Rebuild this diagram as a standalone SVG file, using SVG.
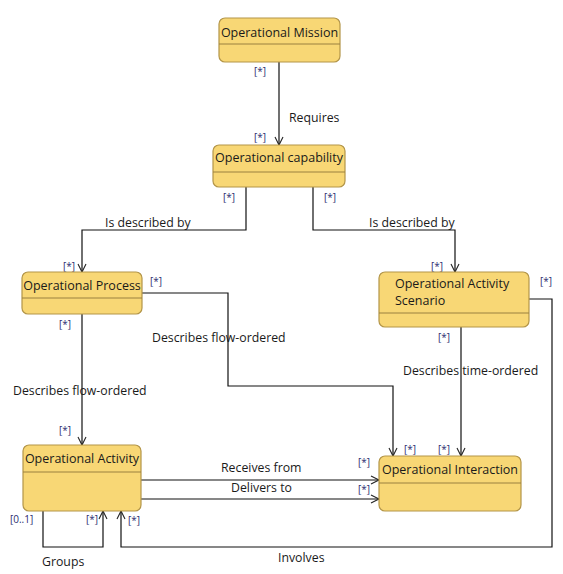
<svg xmlns="http://www.w3.org/2000/svg" width="563" height="574" viewBox="0 0 563 574">
<style>
.box{fill:#F8D775;stroke:#B39548;stroke-width:1.2}
.div{stroke:#9A8040;stroke-width:1}
.t{font-family:"Open Sans","DejaVu Sans",sans-serif;font-size:12.5px;fill:#1a1a1a}
.l{font-family:"Open Sans","DejaVu Sans",sans-serif;font-size:12.3px;fill:#1a1a1a}
.m{font-family:"Open Sans","DejaVu Sans",sans-serif;font-size:10px;fill:#2c2c70}
.c{fill:none;stroke:#111;stroke-width:1.2}
</style>
<defs>
<marker id="a" markerWidth="12" markerHeight="12" refX="10" refY="6" orient="auto" markerUnits="userSpaceOnUse">
<path d="M2,2 L10,6 L2,10" fill="none" stroke="#222" stroke-width="1.1"/>
</marker>
</defs>
<g id="connectors">
<path class="c" d="M279,62 V145" marker-end="url(#a)"/>
<path class="c" d="M246,187 V230 H82 V272" marker-end="url(#a)"/>
<path class="c" d="M313,187 V230 H455 V272" marker-end="url(#a)"/>
<path class="c" d="M82,314 V445" marker-end="url(#a)"/>
<path class="c" d="M142,293 H228 V386 H393 V456" marker-end="url(#a)"/>
<path class="c" d="M461,327 V456" marker-end="url(#a)"/>
<path class="c" d="M529,299 H552 V547 H121 V511" marker-end="url(#a)"/>
<path class="c" d="M141,480 H379" marker-end="url(#a)"/>
<path class="c" d="M141,499 H379" marker-end="url(#a)"/>
<path class="c" d="M43,511 V547 H103 V511" marker-end="url(#a)"/>
<text class="l" x="289" y="122">Requires</text>
<text class="l" x="105" y="227">Is described by</text>
<text class="l" x="369" y="227">Is described by</text>
<text class="l" x="13" y="395">Describes flow-ordered</text>
<text class="l" x="152" y="342">Describes flow-ordered</text>
<text class="l" x="403" y="375">Describes time-ordered</text>
<text class="l" x="221" y="472">Receives from</text>
<text class="l" x="231" y="492">Delivers to</text>
<text class="l" x="278" y="562">Involves</text>
<text class="l" x="42" y="566">Groups</text>
<text class="m" x="254" y="75">[*]</text>
<text class="m" x="254" y="141">[*]</text>
<text class="m" x="223" y="201">[*]</text>
<text class="m" x="324" y="201">[*]</text>
<text class="m" x="63" y="270">[*]</text>
<text class="m" x="431" y="270">[*]</text>
<text class="m" x="150" y="285">[*]</text>
<text class="m" x="59" y="328">[*]</text>
<text class="m" x="59" y="434">[*]</text>
<text class="m" x="540" y="285">[*]</text>
<text class="m" x="438" y="341">[*]</text>
<text class="m" x="404" y="453">[*]</text>
<text class="m" x="438" y="453">[*]</text>
<text class="m" x="358" y="466">[*]</text>
<text class="m" x="358" y="493">[*]</text>
<text class="m" x="10" y="523">[0..1]</text>
<text class="m" x="86" y="523">[*]</text>
<text class="m" x="128" y="524">[*]</text>
</g>
<g id="mission">
<rect class="box" x="219" y="18" width="121" height="44" rx="6"/>
<line class="div" x1="219" y1="44" x2="340" y2="44"/>
<text class="t" x="279.5" y="37" text-anchor="middle">Operational Mission</text>
</g>
<g id="capability">
<rect class="box" x="213" y="145" width="132" height="42" rx="6"/>
<line class="div" x1="213" y1="172" x2="345" y2="172"/>
<text class="t" x="279" y="162" text-anchor="middle">Operational capability</text>
</g>
<g id="process">
<rect class="box" x="22" y="272" width="120" height="42" rx="6"/>
<line class="div" x1="22" y1="298" x2="142" y2="298"/>
<text class="t" x="82" y="290" text-anchor="middle">Operational Process</text>
</g>
<g id="scenario">
<rect class="box" x="379" y="272" width="150" height="55" rx="6"/>
<line class="div" x1="379" y1="313" x2="529" y2="313"/>
<text class="t" x="395" y="288">Operational Activity</text>
<text class="t" x="395" y="305">Scenario</text>
</g>
<g id="activity">
<rect class="box" x="23" y="445" width="118" height="66" rx="6"/>
<line class="div" x1="23" y1="472" x2="141" y2="472"/>
<text class="t" x="82" y="463" text-anchor="middle">Operational Activity</text>
</g>
<g id="interaction">
<rect class="box" x="379" y="456" width="142" height="55" rx="6"/>
<line class="div" x1="379" y1="483" x2="521" y2="483"/>
<text class="t" x="450" y="474" text-anchor="middle">Operational Interaction</text>
</g>
</svg>
